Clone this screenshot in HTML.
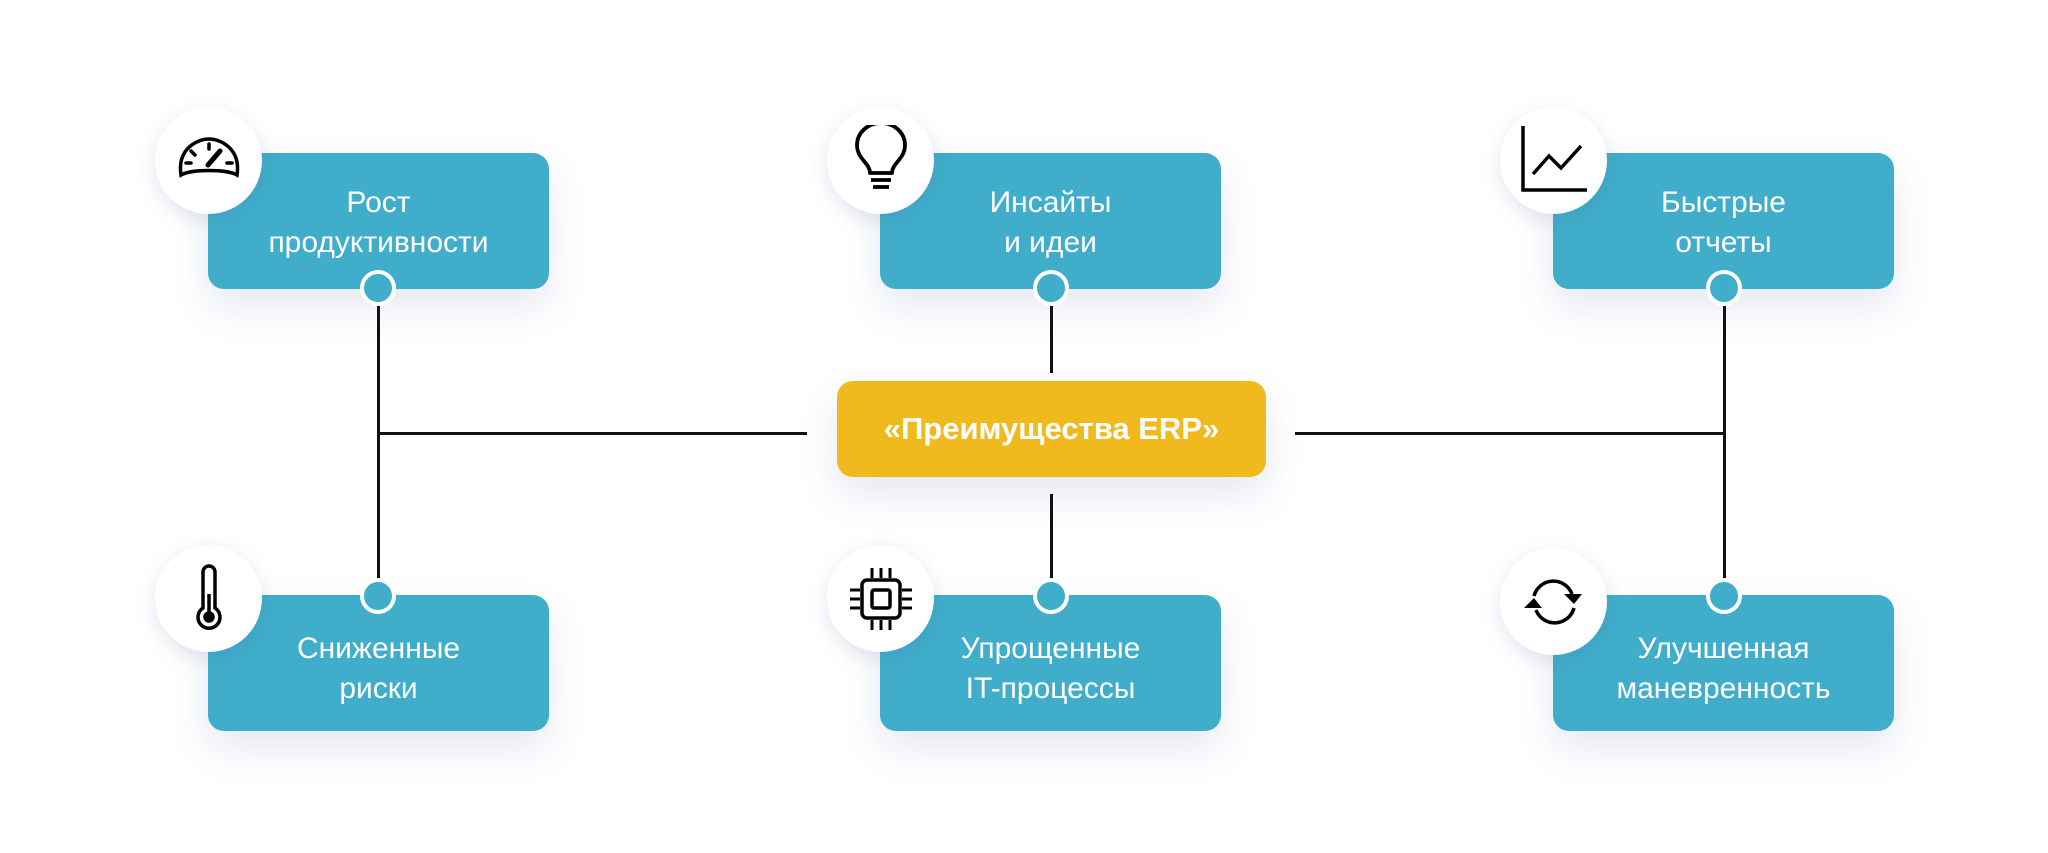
<!DOCTYPE html>
<html><head><meta charset="utf-8"><style>
*{margin:0;padding:0;box-sizing:border-box}
body{width:2048px;height:853px;background:#fff;position:relative;overflow:hidden;font-family:"Liberation Sans",sans-serif}
.box{position:absolute;width:341px;height:136px;background:#40AECB;border-radius:16px;box-shadow:0 18px 40px rgba(60,80,150,0.13);color:#fff;font-size:30px;line-height:40px;text-align:center;display:flex;align-items:center;justify-content:center}
.ic{position:absolute;width:107px;height:107px;border-radius:50%;background:#fff;box-shadow:0 6px 20px rgba(60,80,150,0.15);display:flex;align-items:center;justify-content:center}
.dot{position:absolute;width:36px;height:36px;border-radius:50%;background:#40AECB;border:4px solid #fff}
.ln{position:absolute;background:#111}
</style></head><body>
<div class="ln" style="left:377px;top:300px;width:3px;height:290px"></div>
<div class="ln" style="left:377px;top:432px;width:430px;height:3px"></div>
<div class="ln" style="left:1050px;top:300px;width:3px;height:73px"></div>
<div class="ln" style="left:1050px;top:494px;width:3px;height:85px"></div>
<div class="ln" style="left:1295px;top:432px;width:430px;height:3px"></div>
<div class="ln" style="left:1723px;top:300px;width:3px;height:290px"></div>

<div class="box" style="left:837px;top:381px;width:429px;height:96px;background:#F0BA1E;font-weight:bold;font-size:31px">«Преимущества ERP»</div>

<div class="box" style="left:208px;top:153px;padding-top:4px">Рост<br>продуктивности</div>
<div class="box" style="left:880px;top:153px;padding-top:4px">Инсайты<br>и идеи</div>
<div class="box" style="left:1553px;top:153px;padding-top:4px">Быстрые<br>отчеты</div>
<div class="box" style="left:208px;top:595px;padding-top:12px">Сниженные<br>риски</div>
<div class="box" style="left:880px;top:595px;padding-top:12px">Упрощенные<br>IT-процессы</div>
<div class="box" style="left:1553px;top:595px;padding-top:12px">Улучшенная<br>маневренность</div>

<div class="dot" style="left:360px;top:270px"></div>
<div class="dot" style="left:1033px;top:270px"></div>
<div class="dot" style="left:1706px;top:270px"></div>
<div class="dot" style="left:360px;top:578px"></div>
<div class="dot" style="left:1033px;top:578px"></div>
<div class="dot" style="left:1706px;top:578px"></div>

<div class="ic" style="left:155px;top:107px"><svg width="64" height="64" viewBox="0 0 64 64" fill="none" stroke="#000" stroke-width="3.5" stroke-linecap="round"><path d="M4 46 C0 20 20 10 32 10 C44 10 64 20 60 46 C50 40 14 40 4 46Z"/><line x1="32" y1="15" x2="32" y2="20"/><line x1="14" y1="22" x2="18" y2="26"/><line x1="9" y1="34" x2="14" y2="34"/><line x1="50" y1="34" x2="55" y2="34"/><line x1="31" y1="36" x2="43" y2="22" stroke-width="5"/></svg></div>
<div class="ic" style="left:827px;top:107px"><svg width="64" height="72" viewBox="0 0 64 72" fill="none" stroke="#000" stroke-width="3.8" stroke-linejoin="round"><path d="M21 48 C21 38 8 34 8 20 A24 22 0 0 1 56 20 C56 34 43 38 43 48Z"/><line x1="22" y1="55" x2="42" y2="55"/><line x1="24" y1="62" x2="40" y2="62"/></svg></div>
<div class="ic" style="left:1500px;top:107px"><svg width="70" height="70" viewBox="0 0 70 70" fill="none" stroke="#000" stroke-width="3.5"><polyline points="4,0 4,64 68,64"/><polyline points="14,48 30,30 42,42 62,20"/></svg></div>
<div class="ic" style="left:155px;top:545px"><svg width="40" height="70" viewBox="0 0 40 70" fill="none" stroke="#000" stroke-width="3.5"><path d="M14 44 V8 A6 6 0 0 1 26 8 V44 A11 11 0 1 1 14 44Z"/><line x1="20" y1="30" x2="20" y2="50"/><circle cx="20" cy="53" r="4" fill="#000"/></svg></div>
<div class="ic" style="left:827px;top:545px"><svg width="66" height="66" viewBox="0 0 66 66" fill="none" stroke="#000" stroke-width="3.5"><rect x="14" y="14" width="38" height="38" rx="5"/><rect x="24" y="24" width="18" height="18" rx="2"/><g stroke-width="3"><line x1="24" y1="2" x2="24" y2="12"/><line x1="33" y1="2" x2="33" y2="12"/><line x1="42" y1="2" x2="42" y2="12"/><line x1="24" y1="54" x2="24" y2="64"/><line x1="33" y1="54" x2="33" y2="64"/><line x1="42" y1="54" x2="42" y2="64"/><line x1="2" y1="24" x2="12" y2="24"/><line x1="2" y1="33" x2="12" y2="33"/><line x1="2" y1="42" x2="12" y2="42"/><line x1="54" y1="24" x2="64" y2="24"/><line x1="54" y1="33" x2="64" y2="33"/><line x1="54" y1="42" x2="64" y2="42"/></g></svg></div>
<div class="ic" style="left:1500px;top:548px"><svg width="64" height="56" viewBox="0 0 64 56" fill="none" stroke="#000" stroke-width="3.5"><path d="M12 22 A20 20 0 0 1 50 20"/><path d="M52 34 A20 20 0 0 1 14 36"/><polygon points="42,20 60,20 52,30" fill="#000" stroke="none"/><polygon points="2,34 20,34 12,24" fill="#000" stroke="none"/></svg></div>
</body></html>
